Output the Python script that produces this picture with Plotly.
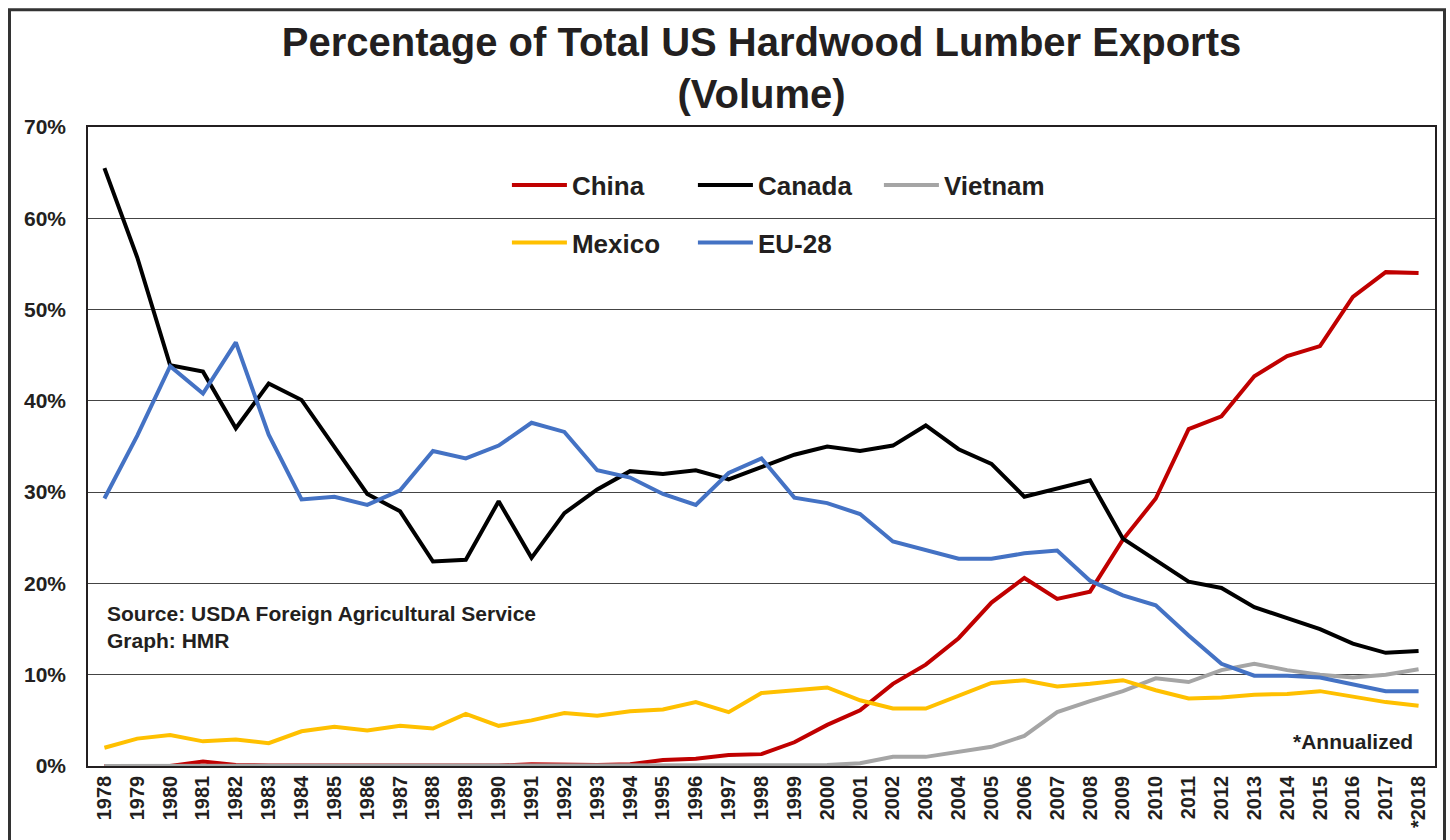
import plotly.graph_objects as go

years = [str(y) for y in range(1978, 2018)] + ["*2018"]

china = [0.0, 0.0, 0.0, 0.5, 0.1, 0.05, 0.05, 0.05, 0.05, 0.05, 0.05, 0.05, 0.05,
         0.2, 0.1, 0.1, 0.2, 0.65, 0.8, 1.2, 1.3, 2.6, 4.5, 6.1, 9.0, 11.1,
         14.0, 17.9, 20.6, 18.3, 19.1, 24.8, 29.3, 36.9, 38.3, 42.7, 44.9, 46.0,
         51.4, 54.1, 54.0]
canada = [65.5, 55.7, 43.9, 43.2, 37.0, 41.9, 40.1, 34.9, 29.8, 27.9, 22.4, 22.6,
          29.0, 22.8, 27.7, 30.3, 32.3, 32.0, 32.4, 31.4, 32.7, 34.1, 35.0, 34.5,
          35.1, 37.3, 34.7, 33.1, 29.5, 30.4, 31.3, 24.9, 22.5, 20.2, 19.5, 17.4,
          16.2, 15.0, 13.4, 12.4, 12.6]
vietnam = [0, 0, 0, 0, 0, 0, 0, 0, 0, 0, 0, 0, 0, 0, 0, 0, 0, 0, 0, 0, 0, 0.1, 0.1,
           0.3, 1.0, 1.0, 1.6, 2.1, 3.3, 5.9, 7.1, 8.2, 9.6, 9.2, 10.5, 11.2, 10.5,
           10.0, 9.7, 10.0, 10.6]
mexico = [2.0, 3.0, 3.4, 2.7, 2.9, 2.5, 3.8, 4.3, 3.9, 4.4, 4.1, 5.7, 4.4, 5.0,
          5.8, 5.5, 6.0, 6.2, 7.0, 5.9, 8.0, 8.3, 8.6, 7.2, 6.3, 6.3, 7.7, 9.1,
          9.4, 8.7, 9.0, 9.4, 8.3, 7.4, 7.5, 7.8, 7.9, 8.2, 7.6, 7.0, 6.6]
eu28 = [29.3, 36.2, 43.8, 40.8, 46.4, 36.3, 29.2, 29.5, 28.6, 30.2, 34.5, 33.7,
        35.1, 37.6, 36.6, 32.4, 31.6, 29.8, 28.6, 32.1, 33.7, 29.4, 28.8, 27.6,
        24.6, 23.7, 22.7, 22.7, 23.3, 23.6, 20.3, 18.7, 17.6, 14.3, 11.2, 9.9,
        9.9, 9.7, 9.0, 8.2, 8.2]

series = [
    ("China", china, "#C00000", "legend"),
    ("Canada", canada, "#000000", "legend"),
    ("Vietnam", vietnam, "#A5A5A5", "legend"),
    ("Mexico", mexico, "#FFC000", "legend2"),
    ("EU-28", eu28, "#4472C4", "legend2"),
]

FONT = "Liberation Sans"
TXT = "#231f20"

fig = go.Figure()
for name, vals, color, lg in series:
    fig.add_trace(go.Scatter(x=years, y=vals, name=name, mode="lines",
                             line=dict(color=color, width=4), legend=lg))

legend_common = dict(orientation="h", xanchor="left", yanchor="middle",
                     font=dict(family=FONT, size=26, color=TXT, weight="bold"),
                     bgcolor="rgba(0,0,0,0)", entrywidth=116, entrywidthmode="pixels",
                     itemwidth=55, traceorder="normal")

fig.update_layout(
    width=1450, height=840,
    margin=dict(l=88, r=15, t=127, b=72),
    paper_bgcolor="white", plot_bgcolor="white",
    showlegend=True,
    title=dict(text="Percentage of Total US Hardwood Lumber Exports<br>(Volume)",
               x=0.5, xref="paper", xanchor="center",
               yref="container", y=1 - 56 / 840, yanchor="middle",
               font=dict(family=FONT, size=40, color=TXT, weight="bold")),
    legend=dict(x=0.311, y=0.909, **legend_common),
    legend2=dict(x=0.311, y=0.819, **legend_common),
    xaxis=dict(type="category", tickangle=-90, showgrid=False, ticks="",
               showline=True, linecolor=TXT, linewidth=1.5, mirror=True,
               tickfont=dict(family=FONT, size=20, color=TXT, weight="bold"),
               range=[-0.5, 40.5], fixedrange=True),
    yaxis=dict(range=[0, 70], dtick=10, ticksuffix="%", showgrid=True,
               gridcolor="#444444", gridwidth=1, zeroline=False, ticks="",
               showline=True, linecolor=TXT, linewidth=1.5, mirror=True,
               ticklabelstandoff=16,
               tickfont=dict(family=FONT, size=21, color=TXT, weight="bold")),
    shapes=[dict(type="rect", xref="paper", yref="paper",
                 x0=(9.5 - 88) / 1347, x1=(1444.5 - 88) / 1347,
                 y0=-0.3, y1=(768 - 9.5) / 641,
                 line=dict(color="#333333", width=3), fillcolor="rgba(0,0,0,0)",
                 layer="above")],
    annotations=[
        dict(text="Source: USDA Foreign Agricultural Service<br>Graph: HMR",
             xref="paper", yref="paper", x=(105 - 88) / 1347, y=(768 - 601) / 641,
             xanchor="left", yanchor="top", align="left", showarrow=False,
             font=dict(family=FONT, size=21, color=TXT, weight="bold")),
        dict(text="*Annualized", xref="paper", yref="paper",
             x=(1415 - 88) / 1347, y=(768 - 743) / 641,
             xanchor="right", yanchor="middle", showarrow=False,
             font=dict(family=FONT, size=21, color=TXT, weight="bold")),
    ],
)

fig.write_html("out.html")
